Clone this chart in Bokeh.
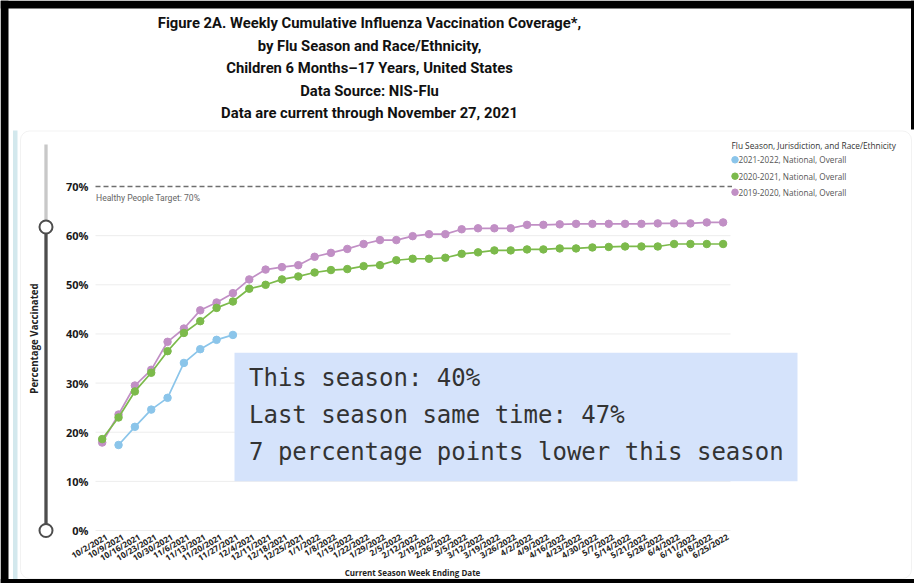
import math
from bokeh.plotting import figure
from bokeh.models import Range1d, BoxAnnotation
from bokeh.core.properties import value
from bokeh.embed import file_html
from bokeh.resources import INLINE

# ---------------- data ----------------
week_labels = ["10/2/2021", "10/9/2021", "10/16/2021", "10/23/2021", "10/30/2021",
               "11/6/2021", "11/13/2021", "11/20/2021", "11/27/2021", "12/4/2021",
               "12/11/2021", "12/18/2021", "12/25/2021", "1/1/2022", "1/8/2022",
               "1/15/2022", "1/22/2022", "1/29/2022", "2/5/2022", "2/12/2022",
               "2/19/2022", "2/26/2022", "3/5/2022", "3/12/2022", "3/19/2022",
               "3/26/2022", "4/2/2022", "4/9/2022", "4/16/2022", "4/23/2022",
               "4/30/2022", "5/7/2022", "5/14/2022", "5/21/2022", "5/28/2022",
               "6/4/2022", "6/11/2022", "6/18/2022", "6/25/2022"]

nan = float("nan")
season_2021_2022 = [nan, 17.4, 21.1, 24.6, 27.0, 34.1, 36.9, 38.8, 39.8]
season_2020_2021 = [18.6, 23.0, 28.3, 32.1, 36.5, 40.2, 42.6, 45.3, 46.6, 49.2,
                    50.0, 51.1, 51.7, 52.5, 53.0, 53.2, 53.8, 54.0, 55.0, 55.3,
                    55.3, 55.5, 56.3, 56.6, 57.0, 57.0, 57.2, 57.2, 57.4, 57.4,
                    57.6, 57.7, 57.8, 57.8, 57.8, 58.3, 58.3, 58.3, 58.3]
season_2019_2020 = [17.9, 23.6, 29.5, 32.7, 38.4, 41.1, 44.8, 46.4, 48.3, 51.1,
                    53.1, 53.6, 54.0, 55.7, 56.5, 57.3, 58.3, 59.1, 59.1, 59.9,
                    60.3, 60.3, 61.3, 61.5, 61.5, 61.5, 62.2, 62.2, 62.3, 62.4,
                    62.4, 62.4, 62.4, 62.4, 62.5, 62.5, 62.5, 62.7, 62.7]

series_names = ["2021-2022, National, Overall", "2020-2021, National, Overall",
                "2019-2020, National, Overall"]
series_colors = ["#8bc5ea", "#7cba4b", "#c18fc5"]

y_ticks = [0, 10, 20, 30, 40, 50, 60, 70]
y_tick_labels = ["0%", "10%", "20%", "30%", "40%", "50%", "60%", "70%"]
grid_values = [0, 10, 20, 30, 40, 50, 60]
target_value = 70
target_label = "Healthy People Target: 70%"

title_lines = ["Figure 2A. Weekly Cumulative Influenza Vaccination Coverage*,",
               "by Flu Season and Race/Ethnicity,",
               "Children 6 Months\u201317 Years, United States",
               "Data Source: NIS-Flu",
               "Data are current through November 27, 2021"]
note_lines = ["This season: 40%",
              "Last season same time: 47%",
              "7 percentage points lower this season"]
legend_title = "Flu Season, Jurisdiction,  and Race/Ethnicity"
x_title = "Current Season Week Ending Date"
y_title = "Percentage Vaccinated"

# ---------------- layout (page pixels -> data) ----------------
W, H = 914, 583
X_FIRST, X_STEP = 101.7, 16.34     # page x of first week, px per week
Y_ZERO, Y_UNIT = 530.0, 4.914      # page y of 0 %, px per percent


def xd(px):
    return (px - X_FIRST) / X_STEP


def yd(py):
    return (Y_ZERO - py) / Y_UNIT


p = figure(width=W, height=H, x_range=Range1d(xd(0), xd(W)),
           y_range=Range1d(yd(H), yd(0)), x_axis_location=None,
           y_axis_location=None, min_border=0, output_backend="svg",
           toolbar_location=None, tools="")
p.outline_line_color = None
p.background_fill_color = "white"
p.border_fill_color = "white"
p.xgrid.visible = False
p.ygrid.visible = False

# page frame (black edges) and card
p.quad(left=[xd(0), xd(0), xd(0), xd(910.5)],
       right=[xd(W), xd(8), xd(W), xd(W)],
       top=[yd(0), yd(0), yd(578.5), yd(0)],
       bottom=[yd(8), yd(H), yd(H), yd(129)],
       fill_color="black", line_color=None)
p.add_layout(BoxAnnotation(left=xd(20), right=xd(911), top=yd(130.5), bottom=yd(578),
                           fill_color="white", fill_alpha=1, line_color="#d4d4d4",
                           line_width=1, border_radius=9, level="underlay"))
p.quad(left=xd(12.5), right=xd(17), top=yd(130), bottom=yd(578.5),
       fill_color="#d3e8ed", line_color=None)

# title
p.text(x=xd(369), y=[yd(v) for v in (22, 45, 67.5, 90, 112)], text=title_lines,
       text_align="center", text_baseline="middle", text_font=value("Roboto"),
       text_font_style="bold", text_font_size="14.8px", text_color="#111111")

# slider
p.segment(x0=xd(45.5), x1=xd(45.5), y0=yd(144), y1=yd(226), line_color="#c8c8c8",
          line_width=3.3)
p.segment(x0=xd(45.5), x1=xd(45.5), y0=yd(226), y1=yd(530), line_color="#4d4d4d",
          line_width=3.3)
p.scatter(x=[xd(45.5), xd(45.5)], y=[yd(226.5), yd(530)], size=13,
          fill_color="white", line_color="#4d4d4d", line_width=2)

# y axis title
p.text(x=xd(33.5), y=yd(338), text=[y_title], angle=math.pi / 2,
       text_align="center", text_baseline="middle", text_font=value("Open Sans"),
       text_font_style="bold", text_font_size="9.7px", text_color="#222222")

# gridlines
p.segment(x0=xd(95), x1=xd(730), y0=grid_values, y1=grid_values,
          line_color="#ededed", line_width=1)
# target line
p.segment(x0=xd(95), x1=xd(731.5), y0=target_value, y1=target_value,
          line_color="#6f6f6f", line_width=1.7, line_dash="5 3")
p.text(x=xd(95.5), y=target_value - (197 - 186) / Y_UNIT, text=[target_label],
       text_align="left", text_baseline="middle", text_font=value("Roboto"),
       text_font_size="8.6px", text_color="#666666")

# y tick labels
p.text(x=xd(88), y=y_ticks, text=y_tick_labels, text_align="right",
       text_baseline="middle", text_font=value("Open Sans"), text_font_style="bold",
       text_font_size="11px", text_color="#1a1a1a")

# x tick labels
weeks = list(range(len(week_labels)))
p.text(x=[w + 0.1 for w in weeks], y=yd(530.5), text=week_labels,
       angle=math.radians(30), text_align="right", text_baseline="top",
       text_font=value("Open Sans"), text_font_style="bold", text_font_size="8.3px",
       text_color="#252423")
p.text(x=xd(412), y=yd(572), text=[x_title], text_align="center",
       text_baseline="middle", text_font=value("Open Sans"), text_font_style="bold",
       text_font_size="8px", text_color="#252423")

# data series
for vals, col in zip([season_2019_2020, season_2020_2021, season_2021_2022],
                     [series_colors[2], series_colors[1], series_colors[0]]):
    xs = list(range(len(vals)))
    p.line(x=xs, y=vals, line_color=col, line_width=1.7)
    p.scatter(x=xs, y=vals, size=7.5, fill_color=col, line_color=col)

# legend
p.text(x=xd(731), y=yd(145), text=[legend_title], text_align="left",
       text_baseline="middle", text_font=value("Open Sans"), text_font_size="8.3px",
       text_color="#333333")
leg_y = [yd(159.3), yd(175.7), yd(191.7)]
p.scatter(x=[xd(734.5)] * 3, y=leg_y, size=6.5, fill_color=series_colors,
          line_color=series_colors)
p.text(x=xd(738), y=leg_y, text=series_names, text_align="left",
       text_baseline="middle", text_font=value("Open Sans"), text_font_size="8.2px",
       text_color="#555555")

# note box
p.quad(left=xd(234), right=xd(797), top=yd(352.3), bottom=yd(480.7),
       fill_color="#d5e3fb", line_color=None)
p.text(x=xd(248.5), y=[yd(377), yd(414), yd(451)], text=note_lines,
       text_align="left", text_baseline="middle",
       text_font=value("DejaVu Sans Mono"), text_font_size="24px",
       text_color="#333333")

open("out.html", "w").write(file_html(p, INLINE))
